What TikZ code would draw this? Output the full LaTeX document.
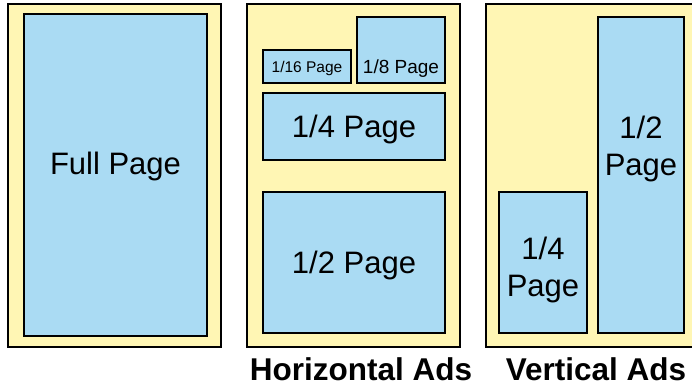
\documentclass[tikz,border=0pt]{standalone}
\usepackage{fontspec}
\setmainfont{Liberation Sans}
\usetikzlibrary{positioning,calc}
\definecolor{pageyellow}{RGB}{255,246,180}
\definecolor{adblue}{RGB}{170,219,243}

\begin{document}
\begin{tikzpicture}[x = 1pt, y = -1pt, font = \fontsize{31}{37}\selectfont]
    \tikzset{
      page/.style = {draw, line width = 1.8pt, fill = pageyellow, inner sep = 0pt},
      ad/.style = {draw, line width = 2.2pt, fill = adblue, inner sep = 0pt, align = center, text depth = 0pt},
      small/.style = {font = \fontsize{15.5}{18}\selectfont},
      medium/.style = {font = \fontsize{19}{22}\selectfont},
      caption/.style = {font = \fontsize{31.5}{36}\selectfont\bfseries, inner sep = 0pt},
    }
    \useasboundingbox (0, 0) rectangle (692, 385);
    \clip (0, 0) rectangle (692, 385);

    % full page
    \node [page, minimum width = 213, minimum height = 343] (page0) at (114.5, 175.5) {};
    \node [ad, minimum width = 183, minimum height = 322] (full) at (115.5, 175) {};
    \node at (115.5, 166) {Full Page};

    % horizontal ads
    \node [page, minimum width = 213, minimum height = 343] (page1) at (353.5, 175.5) {};
    \node [ad, small, minimum width = 88, minimum height = 33] (sixteenth) at (307, 66.5) {1/16 Page};
    \node [ad, minimum width = 88, minimum height = 66] (eighth) at (401, 50) {};
    \node [medium, text depth = 0pt] at (eighth |- sixteenth) {1/8 Page};
    \node [ad, minimum width = 182, minimum height = 67] (quarter) at (354, 126.5) {1/4 Page};
    \node [ad, minimum width = 182, minimum height = 141] (half) at (354, 262.5) {1/2 Page};
    \node [caption] (horizontal) at (361, 369) {Horizontal Ads};

    % vertical ads
    \node [page, minimum width = 213, minimum height = 343] (page2) at (592.5, 175.5) {};
    \node [ad, minimum width = 88, minimum height = 141] (vquarter) at (543, 262.5) {};
    \node [align = center] at (543, 270) {1/4\\Page};
    \node [ad, minimum width = 86, minimum height = 316] (vhalf) at (641, 175) {};
    \node [align = center] at (641, 149) {1/2\\Page};
    \node [caption] (vertical) at (596, 369) {Vertical Ads};
  \end{tikzpicture}
\end{document}
